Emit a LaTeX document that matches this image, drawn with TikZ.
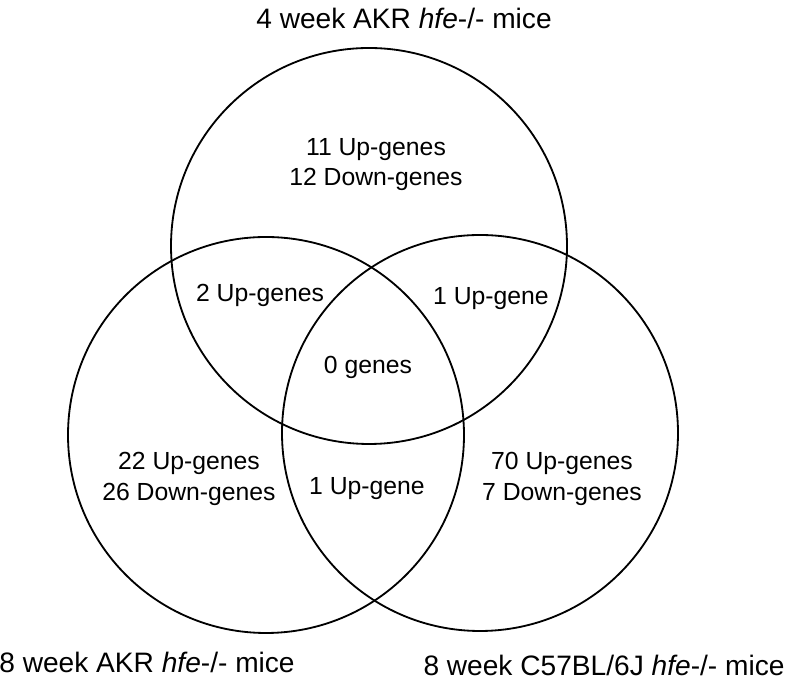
\documentclass[tikz,border=0pt]{standalone}
\usepackage{fontspec}
\setmainfont{Liberation Sans}

\begin{document}
\begin{tikzpicture}[
    region/.style={align=center,inner sep=0pt,font=\fontsize{17.6}{22}\selectfont},
    setname/.style={inner sep=0pt,font=\fontsize{20}{24}\selectfont}]
      \useasboundingbox (0,0) rectangle (19.65,17.125);

      \draw[line width=1.3pt] (9.225,10.975) circle (4.95);% top set
      \draw[line width=1.3pt] (6.65,6.25) circle (4.95);% left set
      \draw[line width=1.3pt] (12.0,6.3) circle (4.95);% right set

      \node[setname] (nametop) at (10.1,16.675) {4 week AKR \textit{hfe}-/- mice};
      \node[setname] (nameleft) at (3.675,0.575) {8 week AKR \textit{hfe}-/- mice};
      \node[setname] (nameright) at (15.1,0.5) {8 week C57BL/6J \textit{hfe}-/- mice};

      \node[region] (onlytop) at (9.4,13.01) {11 Up-genes\\12 Down-genes};
      \node[region] (topleft) at (6.5,9.75) {2 Up-genes};
      \node[region] (topright) at (12.275,9.65) {1 Up-gene};
      \node[region] (all) at (9.2,7.95) {0 genes};
      \node[region] (onlyleft) at (4.725,5.16) {22 Up-genes\\26 Down-genes};
      \node[region] (leftright) at (9.175,4.9) {1 Up-gene};
      \node[region] (onlyright) at (14.05,5.16) {70 Up-genes\\7 Down-genes};
\end{tikzpicture}
\end{document}
